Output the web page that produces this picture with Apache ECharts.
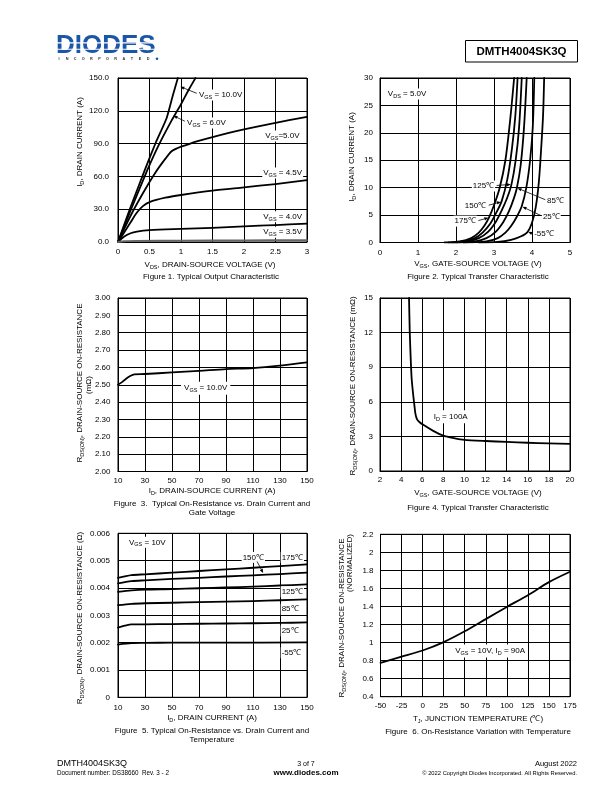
<!DOCTYPE html>
<html><head><meta charset="utf-8">
<script src="https://cdn.jsdelivr.net/npm/echarts@6/dist/echarts.min.js"></script>
<style>html,body{margin:0;padding:0;background:#fff}#c{width:612px;height:792px}</style>
</head><body><div id="c"></div>
<script>
// ---------- Figure 1: Typical Output Characteristic (VDS V, ID A)
const fig1XTicks = [0, 0.5, 1, 1.5, 2, 2.5, 3];
const fig1XLabels = ['0', '0.5', '1', '1.5', '2', '2.5', '3'];
const fig1YTicks = [0, 30, 60, 90, 120, 150];
const fig1YLabels = ['0.0', '30.0', '60.0', '90.0', '120.0', '150.0'];
const fig1Vgs10 = [[0,0],[0.2,32],[0.42,65],[0.6,91],[0.77,113],[0.87,134],[0.95,150]];
const fig1Vgs6  = [[0,0],[0.2,29],[0.46,65],[0.65,89],[0.85,111],[1.0,126],[1.12,139],[1.23,150]];
const fig1Vgs5  = [[0,0],[0.2,24],[0.4,45],[0.6,64],[0.75,76],[0.85,83],[0.95,86],[1.1,89],[1.25,92],[1.5,96],[2,103],[2.5,109],[3,114.5]];
const fig1Vgs45 = [[0,0],[0.1,9],[0.2,18],[0.3,27],[0.4,33],[0.5,36.5],[0.75,40.5],[1,43],[1.5,47],[2,50],[2.5,53],[3,56.5]];
const fig1Vgs4  = [[0,0],[0.1,5],[0.2,8],[0.3,9.5],[0.5,10.8],[1,12],[1.5,13],[2,14.3],[2.5,15.5],[3,16.8]];
const fig1Vgs35 = [[0,0],[0.1,0.7],[0.3,1],[1,1.2],[2,1.5],[3,1.8]];

// ---------- Figure 2: Typical Transfer Characteristic (VGS V, ID A)
const fig2XTicks = [0, 1, 2, 3, 4, 5];
const fig2XLabels = ['0', '1', '2', '3', '4', '5'];
const fig2YTicks = [0, 5, 10, 15, 20, 25, 30];
const fig2YLabels = ['0', '5', '10', '15', '20', '25', '30'];
const fig2T175 = [[1.7,0],[2.1,0.2],[2.4,0.8],[2.6,1.8],[2.75,3.1],[2.87,4.6],[3.0,6.8],[3.15,10],[3.3,15],[3.42,22],[3.53,30]];
const fig2T150 = [[1.8,0],[2.2,0.2],[2.5,0.8],[2.7,1.8],[2.9,3.4],[3.05,5.3],[3.2,7.5],[3.35,11.5],[3.47,17],[3.56,23],[3.62,30]];
const fig2T125 = [[1.9,0],[2.3,0.2],[2.6,0.8],[2.85,2],[3.05,3.8],[3.2,5.8],[3.35,8.2],[3.46,10.6],[3.57,15],[3.66,21],[3.73,30]];
const fig2T85  = [[2.0,0],[2.5,0.2],[2.8,0.8],[3.05,2],[3.25,3.8],[3.4,5.8],[3.52,8],[3.6,9.9],[3.7,14],[3.79,21],[3.86,30]];
const fig2T25  = [[2.2,0],[2.8,0.2],[3.1,0.8],[3.3,1.8],[3.45,3],[3.6,4.7],[3.73,6.6],[3.85,10],[3.95,15],[4.02,21],[4.06,30]];
const fig2Tm55 = [[2.6,0],[3.1,0.1],[3.45,0.5],[3.7,1.1],[3.88,1.9],[4.0,3.6],[4.1,6.5],[4.18,11],[4.24,17],[4.29,23],[4.32,30]];

// ---------- Figure 3: On-Resistance vs Drain Current (ID A, RDS mOhm)
const fig3XTicks = [10, 30, 50, 70, 90, 110, 130, 150];
const fig3XLabels = ['10', '30', '50', '70', '90', '110', '130', '150'];
const fig3YTicks = [2.0, 2.1, 2.2, 2.3, 2.4, 2.5, 2.6, 2.7, 2.8, 2.9, 3.0];
const fig3YLabels = ['2.00','2.10','2.20','2.30','2.40','2.50','2.60','2.70','2.80','2.90','3.00'];
const fig3Vgs10 = [[10,2.50],[13,2.515],[16,2.535],[19,2.55],[22,2.56],[30,2.562],[50,2.571],[70,2.58],[90,2.59],[110,2.596],[130,2.61],[150,2.629]];

// ---------- Figure 4: On-Resistance vs Gate Voltage (VGS V, RDS mOhm)
const fig4XTicks = [2, 4, 6, 8, 10, 12, 14, 16, 18, 20];
const fig4XLabels = ['2','4','6','8','10','12','14','16','18','20'];
const fig4YTicks = [0, 3, 6, 9, 12, 15];
const fig4YLabels = ['0','3','6','9','12','15'];
const fig4Id100 = [[4.75,15],[4.82,12],[4.92,9.5],[5.0,8],[5.1,7],[5.22,6],[5.35,5],[5.5,4.5],[5.73,4.25],[6.1,4.0],[7,3.5],[8,3.06],[9,2.85],[10,2.7],[12,2.6],[14,2.52],[16,2.45],[18,2.4],[20,2.35]];

// ---------- Figure 5: On-Resistance vs Drain Current and Temperature (ID A, RDS Ohm)
const fig5XTicks = [10, 30, 50, 70, 90, 110, 130, 150];
const fig5XLabels = ['10', '30', '50', '70', '90', '110', '130', '150'];
const fig5YTicks = [0, 0.001, 0.002, 0.003, 0.004, 0.005, 0.006];
const fig5YLabels = ['0','0.001','0.002','0.003','0.004','0.005','0.006'];
const fig5T175 = [[10,0.00437],[20,0.00447],[30,0.0045],[50,0.00456],[70,0.00462],[90,0.00468],[110,0.00474],[130,0.0048],[150,0.00486]];
const fig5T150 = [[10,0.00417],[20,0.00425],[30,0.00428],[50,0.00433],[70,0.00437],[90,0.00442],[110,0.00446],[130,0.00451],[150,0.00456]];
const fig5T125 = [[10,0.00386],[20,0.00391],[30,0.00394],[50,0.00396],[70,0.00399],[90,0.00402],[110,0.00405],[130,0.00409],[150,0.00413]];
const fig5T85  = [[10,0.00337],[20,0.00342],[30,0.00344],[50,0.00346],[70,0.00348],[90,0.0035],[110,0.00352],[130,0.00355],[150,0.00358]];
const fig5T25  = [[10,0.00255],[15,0.00262],[20,0.00267],[30,0.00267],[50,0.00268],[70,0.00269],[90,0.0027],[110,0.00271],[130,0.00272],[150,0.00274]];
const fig5Tm55 = [[10,0.00193],[20,0.00198],[30,0.00199],[50,0.002],[90,0.002],[150,0.00201]];

// ---------- Figure 6: On-Resistance vs Temperature (TJ C, normalized)
const fig6XTicks = [-50, -25, 0, 25, 50, 75, 100, 125, 150, 175];
const fig6XLabels = ['-50','-25','0','25','50','75','100','125','150','175'];
const fig6YTicks = [0.4, 0.6, 0.8, 1.0, 1.2, 1.4, 1.6, 1.8, 2.0, 2.2];
const fig6YLabels = ['0.4','0.6','0.8','1','1.2','1.4','1.6','1.8','2','2.2'];
const fig6Norm = [[-50,0.775],[-25,0.843],[0,0.912],[25,1.005],[50,1.125],[75,1.26],[100,1.395],[125,1.525],[150,1.67],[175,1.785]];

// ================= rendering =================
const FONT = '"Liberation Sans", Arial, Helvetica, sans-serif';
const RICH = {
  n: {fontSize: 8, fontFamily: FONT, color: '#000', lineHeight: 11, verticalAlign: 'middle'},
  s: {fontSize: 5.5, fontFamily: FONT, color: '#000', lineHeight: 11, verticalAlign: 'bottom'}
};
const GRIDS = [
  {left:118, top:78, width:189, height:164},
  {left:380, top:78, width:190, height:164.5},
  {left:118, top:298, width:189, height:173.5},
  {left:380, top:298, width:190, height:173},
  {left:118, top:533.3, width:189, height:164},
  {left:380.5, top:534.3, width:189.5, height:162.4}
];
function labelFor(v, ticks, labels) {
  const step = Math.abs(ticks[1] - ticks[0]);
  for (let i = 0; i < ticks.length; i++) if (Math.abs(ticks[i] - v) < step * 1e-3) return labels[i];
  return '';
}
function axis(kind, i, ticks, labels, margin) {
  return {
    type: 'value', gridIndex: i,
    min: ticks[0], max: ticks[ticks.length - 1],
    interval: +(ticks[1] - ticks[0]).toFixed(6),
    axisLine: {show: true, onZero: false, lineStyle: {color: '#000', width: 1}},
    axisTick: {show: false},
    splitLine: {show: true, lineStyle: {color: '#000', width: 1}},
    axisLabel: {fontSize: 8, color: '#000', fontFamily: FONT, margin: margin,
      formatter: v => labelFor(v, ticks, labels)}
  };
}
function line(i, data, color, width, smooth) {
  return {type: 'line', xAxisIndex: i, yAxisIndex: i, data: data, showSymbol: false, symbol: 'none',
    smooth: smooth === undefined ? 0.3 : smooth, clip: true, silent: true, animation: false,
    lineStyle: {color: color || '#000', width: width || 1.8, join: 'round', cap: 'round'}};
}
const chart = echarts.init(document.getElementById('c'), null, {renderer: 'canvas', width: 612, height: 792});
chart.setOption({
  animation: false,
  backgroundColor: '#fff',
  grid: GRIDS.map(g => Object.assign({show: true, borderColor: '#000', borderWidth: 1, containLabel: false}, g)),
  xAxis: [
    axis('x', 0, fig1XTicks, fig1XLabels, 6),
    axis('x', 1, fig2XTicks, fig2XLabels, 6),
    axis('x', 2, fig3XTicks, fig3XLabels, 5.5),
    axis('x', 3, fig4XTicks, fig4XLabels, 5),
    axis('x', 4, fig5XTicks, fig5XLabels, 6),
    axis('x', 5, fig6XTicks, fig6XLabels, 5)
  ],
  yAxis: [
    axis('y', 0, fig1YTicks, fig1YLabels, 9),
    axis('y', 1, fig2YTicks, fig2YLabels, 7),
    axis('y', 2, fig3YTicks, fig3YLabels, 7.5),
    axis('y', 3, fig4YTicks, fig4YLabels, 7),
    axis('y', 4, fig5YTicks, fig5YLabels, 8),
    axis('y', 5, fig6YTicks, fig6YLabels, 7)
  ],
  series: [
    line(0, fig1Vgs10, null, null, 0.15), line(0, fig1Vgs6, null, null, 0.15), line(0, fig1Vgs5), line(0, fig1Vgs45), line(0, fig1Vgs4), line(0, fig1Vgs35, '#666', 1.8),
    line(1, fig2T175), line(1, fig2T150), line(1, fig2T125), line(1, fig2T85), line(1, fig2T25), line(1, fig2Tm55),
    line(2, fig3Vgs10),
    line(3, fig4Id100, null, null, 0.2),
    line(4, fig5T175), line(4, fig5T150), line(4, fig5T125), line(4, fig5T85), line(4, fig5T25), line(4, fig5Tm55),
    line(5, fig6Norm)
  ]
});

// ---------- annotations (in data coordinates) ----------
function px(g, pt) { return chart.convertToPixel({gridIndex: g}, pt); }
function note(g, pt, text, align, pad) {
  const p = px(g, pt);
  return {type: 'text', x: p[0], y: p[1], z: 50,
    style: {text: text, rich: RICH, align: align || 'left', verticalAlign: 'middle',
      backgroundColor: '#fff', padding: pad || [0, 1]}};
}
function arrow(g, from, to) {
  const a = px(g, from), b = px(g, to);
  const dx = b[0] - a[0], dy = b[1] - a[1], L = Math.hypot(dx, dy), ux = dx / L, uy = dy / L;
  const hl = 4, hw = 1.7;
  const bx = b[0] - ux * hl, by = b[1] - uy * hl;
  return [
    {type: 'line', z: 51, shape: {x1: a[0], y1: a[1], x2: bx, y2: by}, style: {stroke: '#000', lineWidth: 0.8}},
    {type: 'polygon', z: 51, shape: {points: [[b[0], b[1]], [bx - uy * hw, by + ux * hw], [bx + uy * hw, by - ux * hw]]}, style: {fill: '#000'}}
  ];
}
function T(x, y, text, opt) {
  opt = opt || {};
  return {type: 'text', x: x, y: y, rotation: opt.rot ? Math.PI / 2 : 0, z: 60,
    style: {text: text, rich: RICH, align: opt.align || 'center', verticalAlign: 'middle',
      fontSize: opt.size || 8, fontFamily: FONT, fill: '#000'}};
}
const vgs = s => '{n|V}{s|GS}{n|' + s + '}';
const C = '\u2103';
const G = [];
// Figure 1
G.push(note(0, [1.27, 134.5], vgs(' = 10.0V')));
G.push(...arrow(0, [1.25, 136], [0.99, 142]));
G.push(note(0, [1.08, 108.8], vgs(' = 6.0V')));
G.push(...arrow(0, [1.06, 110.5], [0.88, 115.5]));
G.push(note(0, [2.32, 97], vgs('=5.0V')));
G.push(note(0, [2.29, 63], vgs(' = 4.5V')));
G.push(note(0, [2.29, 23], vgs(' = 4.0V')));
G.push(note(0, [2.29, 9], vgs(' = 3.5V')));
// Figure 2
G.push(note(1, [0.18, 27.1], '{n|V}{s|DS}{n| = 5.0V}'));
G.push(note(1, [3.03, 10.3], '{n|125' + C + '}', 'right'));
G.push(...arrow(1, [3.07, 10.4], [3.44, 10.6]));
G.push(note(1, [2.82, 6.66], '{n|150' + C + '}', 'right'));
G.push(...arrow(1, [2.86, 6.8], [3.18, 7.4]));
G.push(note(1, [2.55, 3.9], '{n|175' + C + '}', 'right'));
G.push(...arrow(1, [2.59, 4.0], [2.85, 4.5]));
G.push(note(1, [4.37, 7.57], '{n|85' + C + '}'));
G.push(...arrow(1, [4.35, 7.8], [3.62, 9.9]));
G.push(note(1, [4.26, 4.65], '{n|25' + C + '}'));
G.push(...arrow(1, [4.24, 4.9], [3.75, 6.5]));
G.push(note(1, [4.03, 1.55], '{n|-55' + C + '}'));
G.push(...arrow(1, [4.01, 1.6], [3.9, 1.95]));
// Figure 3
G.push(note(2, [56.7, 2.48], vgs(' = 10.0V'), 'left', [1, 3]));
// Figure 4
G.push(note(3, [6.8, 4.7], '{n|I}{s|D}{n| = 100A}', 'left', [1, 3]));
// Figure 5
G.push(note(4, [17.4, 0.00567], vgs(' = 10V')));
G.push(note(4, [101.6, 0.00512], '{n|150' + C + '}'));
G.push(...arrow(4, [113, 0.00497], [117.5, 0.00455]));
G.push(note(4, [130.5, 0.00512], '{n|175' + C + '}'));
G.push(note(4, [130.5, 0.00386], '{n|125' + C + '}'));
G.push(note(4, [130.5, 0.00322], '{n|85' + C + '}'));
G.push(note(4, [130.5, 0.00243], '{n|25' + C + '}'));
G.push(note(4, [130.5, 0.00163], '{n|-55' + C + '}'));
// Figure 6
G.push(note(5, [36.3, 0.906], vgs(' = 10V, ') + '{n|I}{s|D}{n| = 90A}', 'left', [1, 2]));

// ---------- axis titles ----------
const RDS = '{n|R}{s|DS(ON)}{n|, DRAIN-SOURCE ON-RESISTANCE';
G.push(T(80, 142, '{n|I}{s|D}{n|, DRAIN CURRENT (A)}', {rot: true}));
G.push(T(210, 265, '{n|V}{s|DS}{n|, DRAIN-SOURCE VOLTAGE (V)}'));
G.push(T(352, 157, '{n|I}{s|D}{n|, DRAIN CURRENT (A)}', {rot: true}));
G.push(T(478, 264, '{n|V}{s|GS}{n|, GATE-SOURCE VOLTAGE (V)}'));
G.push(T(80, 383, RDS + '}', {rot: true}));
G.push(T(88.5, 385, '{n|(m\u03A9)}', {rot: true}));
G.push(T(212, 491, '{n|I}{s|D}{n|, DRAIN-SOURCE CURRENT (A)}'));
G.push(T(353, 386, RDS + ' (m\u03A9)}', {rot: true}));
G.push(T(478, 493, '{n|V}{s|GS}{n|, GATE-SOURCE VOLTAGE (V)}'));
G.push(T(80, 618, RDS + ' (\u03A9)}', {rot: true}));
G.push(T(212, 718, '{n|I}{s|D}{n|, DRAIN CURRENT (A)}'));
G.push(T(342, 618, RDS + '}', {rot: true}));
G.push(T(350, 563, '{n|(NORMALIZED)}', {rot: true}));
G.push(T(478, 719, '{n|T}{s|J}{n|, JUNCTION TEMPERATURE (' + C + ')}'));
// ---------- captions ----------
G.push(T(211, 277, '{n|Figure 1. Typical Output Characteristic}'));
G.push(T(478, 277, '{n|Figure 2. Typical Transfer Characteristic}'));
G.push(T(212, 503.3, '{n|Figure  3.  Typical On-Resistance vs. Drain Current and}'));
G.push(T(212, 512.8, '{n|Gate Voltage}'));
G.push(T(478, 507.7, '{n|Figure 4. Typical Transfer Characteristic}'));
G.push(T(212, 730.7, '{n|Figure  5. Typical On-Resistance vs. Drain Current and}'));
G.push(T(212, 740, '{n|Temperature}'));
G.push(T(478, 731.5, '{n|Figure  6. On-Resistance Variation with Temperature}'));

// ---------- header ----------
G.push({type: 'text', x: 56, y: 46, z: 60, style: {text: 'DIODES', fontSize: 26, fontWeight: 'bold', fontFamily: FONT, fill: '#1b57a6', align: 'left', verticalAlign: 'middle'}});
G.push({type: 'rect', z: 61, shape: {x: 54, y: 42.3, width: 106, height: 1.1}, style: {fill: '#fff'}});
G.push({type: 'rect', z: 61, shape: {x: 54, y: 48.7, width: 106, height: 1.1}, style: {fill: '#fff'}});
const INC = 'INCORPORATED';
for (let k = 0; k < INC.length; k++) {
  G.push({type: 'text', x: 59 + k * 8.1, y: 59, z: 60, style: {text: INC[k], fontSize: 3.8, fontWeight: 'bold', fontFamily: FONT, fill: '#333', align: 'center', verticalAlign: 'middle'}});
}
G.push({type: 'circle', z: 60, shape: {cx: 157, cy: 58.8, r: 1.3}, style: {fill: '#1b57a6'}});
G.push({type: 'rect', z: 60, shape: {x: 465.5, y: 40.5, width: 112, height: 21.5}, style: {fill: '#fff', stroke: '#000', lineWidth: 1}});
G.push({type: 'text', x: 521.5, y: 51.5, z: 61, style: {text: 'DMTH4004SK3Q', fontSize: 11.5, fontWeight: 'bold', fontFamily: FONT, fill: '#000', align: 'center', verticalAlign: 'middle'}});
// ---------- footer ----------
G.push({type: 'text', x: 57, y: 764, z: 60, style: {text: 'DMTH4004SK3Q', fontSize: 9, fontFamily: FONT, fill: '#000', align: 'left', verticalAlign: 'middle'}});
G.push({type: 'text', x: 57, y: 773, z: 60, style: {text: 'Document number: DS38660  Rev. 3 - 2', fontSize: 6.3, fontFamily: FONT, fill: '#000', align: 'left', verticalAlign: 'middle'}});
G.push({type: 'text', x: 306, y: 764, z: 60, style: {text: '3 of 7', fontSize: 7, fontFamily: FONT, fill: '#000', align: 'center', verticalAlign: 'middle'}});
G.push({type: 'text', x: 306, y: 773, z: 60, style: {text: 'www.diodes.com', fontSize: 8, fontWeight: 'bold', fontFamily: FONT, fill: '#000', align: 'center', verticalAlign: 'middle'}});
G.push({type: 'text', x: 577, y: 764, z: 60, style: {text: 'August 2022', fontSize: 7.5, fontFamily: FONT, fill: '#000', align: 'right', verticalAlign: 'middle'}});
G.push({type: 'text', x: 577, y: 773, z: 60, style: {text: '\u00A9 2022 Copyright Diodes Incorporated. All Rights Reserved.', fontSize: 5.8, fontFamily: FONT, fill: '#000', align: 'right', verticalAlign: 'middle'}});

chart.setOption({graphic: {elements: G}});
</script>
</body></html>
